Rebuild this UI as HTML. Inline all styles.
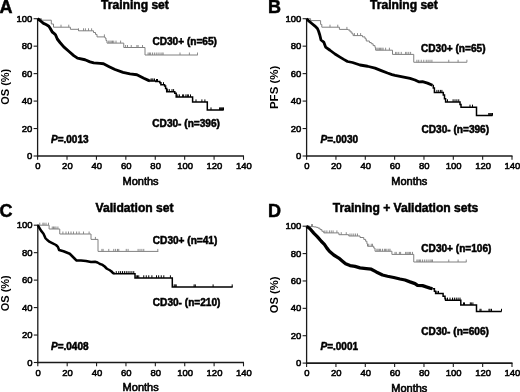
<!DOCTYPE html>
<html><head><meta charset="utf-8"><style>
html,body{margin:0;padding:0;background:#fff;}
svg{display:block;font-family:"Liberation Sans", sans-serif;will-change:transform;}
text{fill:#000;} text[font-weight="bold"]{stroke:#000;stroke-width:0.5px;} text[font-weight="normal"]{stroke:#000;stroke-width:0.6px;} text.tk{stroke:#000;stroke-width:0.55px;} text.yl{stroke:none;}
</style></head><body>
<svg width="520" height="392" viewBox="0 0 520 392">
<rect width="520" height="392" fill="#fff"/>
<line x1="37.6" y1="18.099999999999998" x2="37.6" y2="156.75" stroke="#1a1a1a" stroke-width="1.3"/>
<line x1="36.95" y1="156.0" x2="244.0" y2="156.0" stroke="#1a1a1a" stroke-width="1.6"/>
<line x1="33.6" y1="156.00" x2="37.6" y2="156.00" stroke="#1a1a1a" stroke-width="1.1"/>
<text x="32.40" y="159.10" font-size="9.5" font-weight="normal" text-anchor="end" class="tk">0</text>
<line x1="33.6" y1="128.54" x2="37.6" y2="128.54" stroke="#1a1a1a" stroke-width="1.1"/>
<text x="32.40" y="131.64" font-size="9.5" font-weight="normal" text-anchor="end" class="tk">20</text>
<line x1="33.6" y1="101.08" x2="37.6" y2="101.08" stroke="#1a1a1a" stroke-width="1.1"/>
<text x="32.40" y="104.18" font-size="9.5" font-weight="normal" text-anchor="end" class="tk">40</text>
<line x1="33.6" y1="73.62" x2="37.6" y2="73.62" stroke="#1a1a1a" stroke-width="1.1"/>
<text x="32.40" y="76.72" font-size="9.5" font-weight="normal" text-anchor="end" class="tk">60</text>
<line x1="33.6" y1="46.16" x2="37.6" y2="46.16" stroke="#1a1a1a" stroke-width="1.1"/>
<text x="32.40" y="49.26" font-size="9.5" font-weight="normal" text-anchor="end" class="tk">80</text>
<line x1="33.6" y1="18.70" x2="37.6" y2="18.70" stroke="#1a1a1a" stroke-width="1.1"/>
<text x="32.40" y="21.80" font-size="9.5" font-weight="normal" text-anchor="end" class="tk">100</text>
<line x1="37.60" y1="156.0" x2="37.60" y2="159.8" stroke="#1a1a1a" stroke-width="1.1"/>
<text x="38.00" y="169.20" font-size="9.5" font-weight="normal" text-anchor="middle" class="tk">0</text>
<line x1="67.01" y1="156.0" x2="67.01" y2="159.8" stroke="#1a1a1a" stroke-width="1.1"/>
<text x="67.41" y="169.20" font-size="9.5" font-weight="normal" text-anchor="middle" class="tk">20</text>
<line x1="96.43" y1="156.0" x2="96.43" y2="159.8" stroke="#1a1a1a" stroke-width="1.1"/>
<text x="96.83" y="169.20" font-size="9.5" font-weight="normal" text-anchor="middle" class="tk">40</text>
<line x1="125.84" y1="156.0" x2="125.84" y2="159.8" stroke="#1a1a1a" stroke-width="1.1"/>
<text x="126.24" y="169.20" font-size="9.5" font-weight="normal" text-anchor="middle" class="tk">60</text>
<line x1="155.26" y1="156.0" x2="155.26" y2="159.8" stroke="#1a1a1a" stroke-width="1.1"/>
<text x="155.66" y="169.20" font-size="9.5" font-weight="normal" text-anchor="middle" class="tk">80</text>
<line x1="184.67" y1="156.0" x2="184.67" y2="159.8" stroke="#1a1a1a" stroke-width="1.1"/>
<text x="185.07" y="169.20" font-size="9.5" font-weight="normal" text-anchor="middle" class="tk">100</text>
<line x1="214.09" y1="156.0" x2="214.09" y2="159.8" stroke="#1a1a1a" stroke-width="1.1"/>
<text x="214.49" y="169.20" font-size="9.5" font-weight="normal" text-anchor="middle" class="tk">120</text>
<line x1="243.50" y1="156.0" x2="243.50" y2="159.8" stroke="#1a1a1a" stroke-width="1.1"/>
<text x="243.90" y="169.20" font-size="9.5" font-weight="normal" text-anchor="middle" class="tk">140</text>
<text x="140.55" y="184.60" font-size="11" font-weight="normal" text-anchor="middle" >Months</text>
<text x="0" y="0" font-size="11" font-weight="bold" class="yl" text-anchor="middle" transform="translate(9.1,86.75) rotate(-90)">OS (%)</text>
<text x="-0.4" y="12.8" font-size="18" font-weight="bold" text-anchor="start" >A</text>
<text x="101.0" y="8.9" font-size="12.1" font-weight="bold" text-anchor="start" >Training set</text>
<text x="152.4" y="44.8" font-size="10.1" font-weight="bold" text-anchor="start" >CD30+ (n=65)</text>
<text x="152.3" y="126.9" font-size="10.1" font-weight="bold" text-anchor="start" >CD30- (n=396)</text>
<text x="51.0" y="142.7" font-size="10" font-weight="bold"><tspan font-style="italic">P</tspan>=.0013</text>
<polyline points="37.60,18.70 41.50,18.70 41.50,20.20 51.30,20.20 51.30,24.00 53.50,24.00 53.50,27.20 70.40,27.20 70.40,29.30 78.50,29.30 78.50,30.80 93.50,30.80 93.50,32.50 95.50,32.50 95.50,34.40 97.00,34.40 97.00,36.90 105.00,36.90 105.00,38.10 106.00,38.10 106.00,40.60 107.00,40.60 107.00,43.10 123.75,43.10 123.75,47.50 145.00,47.50 145.00,55.00 197.75,55.00" fill="none" stroke="#808080" stroke-width="1.0" />
<line x1="61" y1="24.70" x2="61" y2="27.20" stroke="#808080" stroke-width="0.9"/>
<line x1="68.75" y1="24.70" x2="68.75" y2="27.20" stroke="#808080" stroke-width="0.9"/>
<line x1="78.5" y1="28.30" x2="78.5" y2="30.80" stroke="#808080" stroke-width="0.9"/>
<line x1="83.5" y1="28.30" x2="83.5" y2="30.80" stroke="#808080" stroke-width="0.9"/>
<line x1="85.4" y1="28.30" x2="85.4" y2="30.80" stroke="#808080" stroke-width="0.9"/>
<line x1="88.5" y1="28.30" x2="88.5" y2="30.80" stroke="#808080" stroke-width="0.9"/>
<line x1="91.6" y1="28.30" x2="91.6" y2="30.80" stroke="#808080" stroke-width="0.9"/>
<line x1="104.4" y1="34.40" x2="104.4" y2="36.90" stroke="#808080" stroke-width="0.9"/>
<line x1="108.75" y1="40.60" x2="108.75" y2="43.10" stroke="#808080" stroke-width="0.9"/>
<line x1="110" y1="40.60" x2="110" y2="43.10" stroke="#808080" stroke-width="0.9"/>
<line x1="111.25" y1="40.60" x2="111.25" y2="43.10" stroke="#808080" stroke-width="0.9"/>
<line x1="112.5" y1="40.60" x2="112.5" y2="43.10" stroke="#808080" stroke-width="0.9"/>
<line x1="113.75" y1="40.60" x2="113.75" y2="43.10" stroke="#808080" stroke-width="0.9"/>
<line x1="116" y1="40.60" x2="116" y2="43.10" stroke="#808080" stroke-width="0.9"/>
<line x1="120.6" y1="40.60" x2="120.6" y2="43.10" stroke="#808080" stroke-width="0.9"/>
<line x1="125.6" y1="45.00" x2="125.6" y2="47.50" stroke="#808080" stroke-width="0.9"/>
<line x1="127.5" y1="45.00" x2="127.5" y2="47.50" stroke="#808080" stroke-width="0.9"/>
<line x1="131.25" y1="45.00" x2="131.25" y2="47.50" stroke="#808080" stroke-width="0.9"/>
<line x1="136.9" y1="45.00" x2="136.9" y2="47.50" stroke="#808080" stroke-width="0.9"/>
<line x1="138.1" y1="45.00" x2="138.1" y2="47.50" stroke="#808080" stroke-width="0.9"/>
<line x1="142.5" y1="45.00" x2="142.5" y2="47.50" stroke="#808080" stroke-width="0.9"/>
<line x1="148.1" y1="52.50" x2="148.1" y2="55.00" stroke="#808080" stroke-width="0.9"/>
<line x1="149.4" y1="52.50" x2="149.4" y2="55.00" stroke="#808080" stroke-width="0.9"/>
<line x1="150.6" y1="52.50" x2="150.6" y2="55.00" stroke="#808080" stroke-width="0.9"/>
<line x1="152.5" y1="52.50" x2="152.5" y2="55.00" stroke="#808080" stroke-width="0.9"/>
<line x1="154.4" y1="52.50" x2="154.4" y2="55.00" stroke="#808080" stroke-width="0.9"/>
<line x1="156.25" y1="52.50" x2="156.25" y2="55.00" stroke="#808080" stroke-width="0.9"/>
<line x1="158.1" y1="52.50" x2="158.1" y2="55.00" stroke="#808080" stroke-width="0.9"/>
<line x1="160" y1="52.50" x2="160" y2="55.00" stroke="#808080" stroke-width="0.9"/>
<line x1="161.9" y1="52.50" x2="161.9" y2="55.00" stroke="#808080" stroke-width="0.9"/>
<line x1="163.1" y1="52.50" x2="163.1" y2="55.00" stroke="#808080" stroke-width="0.9"/>
<line x1="180" y1="52.50" x2="180" y2="55.00" stroke="#808080" stroke-width="0.9"/>
<line x1="189.4" y1="52.50" x2="189.4" y2="55.00" stroke="#808080" stroke-width="0.9"/>
<line x1="197.5" y1="52.50" x2="197.5" y2="55.00" stroke="#808080" stroke-width="0.9"/>
<polyline points="149.50,81.10 155.80,81.10 155.80,81.60 159.80,81.60 159.80,82.70 160.90,82.70 160.90,84.80 164.60,84.80 164.60,85.90 165.60,85.90 165.60,88.50 166.70,88.50 166.70,91.70 174.80,91.70 174.80,93.30 176.20,93.30 176.20,97.00 192.60,97.00 192.60,102.00 207.30,102.00 207.30,110.00 223.70,110.00" fill="none" stroke="#000" stroke-width="1.5" />
<polyline points="37.60,18.70 40.00,20.50 43.50,23.40 46.00,24.50 48.50,25.90 50.00,28.00 52.25,32.00 54.00,33.40 55.50,34.80 57.30,39.00 60.00,42.50 63.75,46.90 68.75,51.25 73.75,55.60 77.50,58.10 85.00,59.75 90.00,61.90 93.75,62.90 100.00,63.40 103.50,63.80 109.20,66.70 115.00,69.50 123.00,72.40 130.00,73.90 136.90,74.70 143.80,78.20 148.50,80.40 150.00,81.00" fill="none" stroke="#000" stroke-width="2.9" stroke-linejoin="round"/>
<line x1="151" y1="78.50" x2="151" y2="81.10" stroke="#000" stroke-width="1"/>
<line x1="152" y1="78.50" x2="152" y2="81.10" stroke="#000" stroke-width="1"/>
<line x1="153" y1="78.50" x2="153" y2="81.10" stroke="#000" stroke-width="1"/>
<line x1="154.5" y1="78.50" x2="154.5" y2="81.10" stroke="#000" stroke-width="1"/>
<line x1="156.5" y1="79.00" x2="156.5" y2="81.60" stroke="#000" stroke-width="1"/>
<line x1="157.5" y1="79.00" x2="157.5" y2="81.60" stroke="#000" stroke-width="1"/>
<line x1="163.5" y1="82.20" x2="163.5" y2="84.80" stroke="#000" stroke-width="1"/>
<line x1="167.7" y1="89.10" x2="167.7" y2="91.70" stroke="#000" stroke-width="1"/>
<line x1="169.3" y1="89.10" x2="169.3" y2="91.70" stroke="#000" stroke-width="1"/>
<line x1="172" y1="89.10" x2="172" y2="91.70" stroke="#000" stroke-width="1"/>
<line x1="173.6" y1="89.10" x2="173.6" y2="91.70" stroke="#000" stroke-width="1"/>
<line x1="177.8" y1="94.40" x2="177.8" y2="97.00" stroke="#000" stroke-width="1"/>
<line x1="179.4" y1="94.40" x2="179.4" y2="97.00" stroke="#000" stroke-width="1"/>
<line x1="182.6" y1="94.40" x2="182.6" y2="97.00" stroke="#000" stroke-width="1"/>
<line x1="183.6" y1="94.40" x2="183.6" y2="97.00" stroke="#000" stroke-width="1"/>
<line x1="185.9" y1="94.40" x2="185.9" y2="97.00" stroke="#000" stroke-width="1"/>
<line x1="187.3" y1="94.40" x2="187.3" y2="97.00" stroke="#000" stroke-width="1"/>
<line x1="188.4" y1="94.40" x2="188.4" y2="97.00" stroke="#000" stroke-width="1"/>
<line x1="190.5" y1="94.40" x2="190.5" y2="97.00" stroke="#000" stroke-width="1"/>
<line x1="196" y1="99.40" x2="196" y2="102.00" stroke="#000" stroke-width="1"/>
<line x1="201.9" y1="99.40" x2="201.9" y2="102.00" stroke="#000" stroke-width="1"/>
<line x1="204.9" y1="99.40" x2="204.9" y2="102.00" stroke="#000" stroke-width="1"/>
<line x1="211" y1="107.40" x2="211" y2="110.00" stroke="#000" stroke-width="1"/>
<line x1="219.6" y1="107.40" x2="219.6" y2="110.00" stroke="#000" stroke-width="1"/>
<line x1="220.6" y1="107.40" x2="220.6" y2="110.00" stroke="#000" stroke-width="1"/>
<line x1="221.6" y1="107.40" x2="221.6" y2="110.00" stroke="#000" stroke-width="1"/>
<line x1="222.6" y1="107.40" x2="222.6" y2="110.00" stroke="#000" stroke-width="1"/>
<line x1="223.5" y1="107.40" x2="223.5" y2="110.00" stroke="#000" stroke-width="1"/>
<line x1="306.6" y1="18.099999999999998" x2="306.6" y2="156.75" stroke="#1a1a1a" stroke-width="1.3"/>
<line x1="305.95000000000005" y1="156.0" x2="512.5" y2="156.0" stroke="#1a1a1a" stroke-width="1.6"/>
<line x1="302.6" y1="156.00" x2="306.6" y2="156.00" stroke="#1a1a1a" stroke-width="1.1"/>
<text x="301.40" y="159.10" font-size="9.5" font-weight="normal" text-anchor="end" class="tk">0</text>
<line x1="302.6" y1="128.54" x2="306.6" y2="128.54" stroke="#1a1a1a" stroke-width="1.1"/>
<text x="301.40" y="131.64" font-size="9.5" font-weight="normal" text-anchor="end" class="tk">20</text>
<line x1="302.6" y1="101.08" x2="306.6" y2="101.08" stroke="#1a1a1a" stroke-width="1.1"/>
<text x="301.40" y="104.18" font-size="9.5" font-weight="normal" text-anchor="end" class="tk">40</text>
<line x1="302.6" y1="73.62" x2="306.6" y2="73.62" stroke="#1a1a1a" stroke-width="1.1"/>
<text x="301.40" y="76.72" font-size="9.5" font-weight="normal" text-anchor="end" class="tk">60</text>
<line x1="302.6" y1="46.16" x2="306.6" y2="46.16" stroke="#1a1a1a" stroke-width="1.1"/>
<text x="301.40" y="49.26" font-size="9.5" font-weight="normal" text-anchor="end" class="tk">80</text>
<line x1="302.6" y1="18.70" x2="306.6" y2="18.70" stroke="#1a1a1a" stroke-width="1.1"/>
<text x="301.40" y="21.80" font-size="9.5" font-weight="normal" text-anchor="end" class="tk">100</text>
<line x1="306.60" y1="156.0" x2="306.60" y2="159.8" stroke="#1a1a1a" stroke-width="1.1"/>
<text x="307.00" y="169.20" font-size="9.5" font-weight="normal" text-anchor="middle" class="tk">0</text>
<line x1="335.94" y1="156.0" x2="335.94" y2="159.8" stroke="#1a1a1a" stroke-width="1.1"/>
<text x="336.34" y="169.20" font-size="9.5" font-weight="normal" text-anchor="middle" class="tk">20</text>
<line x1="365.29" y1="156.0" x2="365.29" y2="159.8" stroke="#1a1a1a" stroke-width="1.1"/>
<text x="365.69" y="169.20" font-size="9.5" font-weight="normal" text-anchor="middle" class="tk">40</text>
<line x1="394.63" y1="156.0" x2="394.63" y2="159.8" stroke="#1a1a1a" stroke-width="1.1"/>
<text x="395.03" y="169.20" font-size="9.5" font-weight="normal" text-anchor="middle" class="tk">60</text>
<line x1="423.97" y1="156.0" x2="423.97" y2="159.8" stroke="#1a1a1a" stroke-width="1.1"/>
<text x="424.37" y="169.20" font-size="9.5" font-weight="normal" text-anchor="middle" class="tk">80</text>
<line x1="453.31" y1="156.0" x2="453.31" y2="159.8" stroke="#1a1a1a" stroke-width="1.1"/>
<text x="453.71" y="169.20" font-size="9.5" font-weight="normal" text-anchor="middle" class="tk">100</text>
<line x1="482.66" y1="156.0" x2="482.66" y2="159.8" stroke="#1a1a1a" stroke-width="1.1"/>
<text x="483.06" y="169.20" font-size="9.5" font-weight="normal" text-anchor="middle" class="tk">120</text>
<line x1="512.00" y1="156.0" x2="512.00" y2="159.8" stroke="#1a1a1a" stroke-width="1.1"/>
<text x="512.40" y="169.20" font-size="9.5" font-weight="normal" text-anchor="middle" class="tk">140</text>
<text x="409.30" y="184.60" font-size="11" font-weight="normal" text-anchor="middle" >Months</text>
<text x="0" y="0" font-size="11.5" font-weight="bold" class="yl" text-anchor="middle" transform="translate(277.8,87.35) rotate(-90)">PFS (%)</text>
<text x="268.1" y="12.9" font-size="18" font-weight="bold" text-anchor="start" >B</text>
<text x="370.0" y="8.8" font-size="12.1" font-weight="bold" text-anchor="start" >Training set</text>
<text x="421.0" y="51.9" font-size="10.1" font-weight="bold" text-anchor="start" >CD30+ (n=65)</text>
<text x="421.5" y="132.9" font-size="10.1" font-weight="bold" text-anchor="start" >CD30- (n=396)</text>
<text x="320.5" y="142.7" font-size="10" font-weight="bold"><tspan font-style="italic">P</tspan>=.0030</text>
<polyline points="306.60,18.70 310.60,18.70 310.60,20.60 320.60,20.60 320.60,24.40 321.80,24.40 321.80,27.20 339.40,27.20 339.40,29.40 348.10,29.40 348.10,30.00 350.00,30.00 350.00,31.90 351.90,31.90 351.90,33.75 353.10,33.75 353.10,35.60 362.50,35.60 362.50,36.90 365.00,36.90 365.00,38.75 366.25,38.75 366.25,41.00 369.40,41.00 369.40,42.50 371.25,42.50 371.25,43.75 373.10,43.75 373.10,45.60 375.00,45.60 375.00,47.50 375.60,47.50 375.60,50.20 392.50,50.20 392.50,54.40 413.75,54.40 413.75,62.25 466.90,62.25" fill="none" stroke="#808080" stroke-width="1.0" />
<line x1="330" y1="24.70" x2="330" y2="27.20" stroke="#808080" stroke-width="0.9"/>
<line x1="337.75" y1="24.70" x2="337.75" y2="27.20" stroke="#808080" stroke-width="0.9"/>
<line x1="346.9" y1="26.90" x2="346.9" y2="29.40" stroke="#808080" stroke-width="0.9"/>
<line x1="354.4" y1="33.10" x2="354.4" y2="35.60" stroke="#808080" stroke-width="0.9"/>
<line x1="357.5" y1="33.10" x2="357.5" y2="35.60" stroke="#808080" stroke-width="0.9"/>
<line x1="360.6" y1="33.10" x2="360.6" y2="35.60" stroke="#808080" stroke-width="0.9"/>
<line x1="376.9" y1="47.70" x2="376.9" y2="50.20" stroke="#808080" stroke-width="0.9"/>
<line x1="378.1" y1="47.70" x2="378.1" y2="50.20" stroke="#808080" stroke-width="0.9"/>
<line x1="379.4" y1="47.70" x2="379.4" y2="50.20" stroke="#808080" stroke-width="0.9"/>
<line x1="380.6" y1="47.70" x2="380.6" y2="50.20" stroke="#808080" stroke-width="0.9"/>
<line x1="381.9" y1="47.70" x2="381.9" y2="50.20" stroke="#808080" stroke-width="0.9"/>
<line x1="383.1" y1="47.70" x2="383.1" y2="50.20" stroke="#808080" stroke-width="0.9"/>
<line x1="385.6" y1="47.70" x2="385.6" y2="50.20" stroke="#808080" stroke-width="0.9"/>
<line x1="389.4" y1="47.70" x2="389.4" y2="50.20" stroke="#808080" stroke-width="0.9"/>
<line x1="395.6" y1="51.90" x2="395.6" y2="54.40" stroke="#808080" stroke-width="0.9"/>
<line x1="396.9" y1="51.90" x2="396.9" y2="54.40" stroke="#808080" stroke-width="0.9"/>
<line x1="398.75" y1="51.90" x2="398.75" y2="54.40" stroke="#808080" stroke-width="0.9"/>
<line x1="401.25" y1="51.90" x2="401.25" y2="54.40" stroke="#808080" stroke-width="0.9"/>
<line x1="405.6" y1="51.90" x2="405.6" y2="54.40" stroke="#808080" stroke-width="0.9"/>
<line x1="406.9" y1="51.90" x2="406.9" y2="54.40" stroke="#808080" stroke-width="0.9"/>
<line x1="408.75" y1="51.90" x2="408.75" y2="54.40" stroke="#808080" stroke-width="0.9"/>
<line x1="410.6" y1="51.90" x2="410.6" y2="54.40" stroke="#808080" stroke-width="0.9"/>
<line x1="416.9" y1="59.75" x2="416.9" y2="62.25" stroke="#808080" stroke-width="0.9"/>
<line x1="418.75" y1="59.75" x2="418.75" y2="62.25" stroke="#808080" stroke-width="0.9"/>
<line x1="421.25" y1="59.75" x2="421.25" y2="62.25" stroke="#808080" stroke-width="0.9"/>
<line x1="423.75" y1="59.75" x2="423.75" y2="62.25" stroke="#808080" stroke-width="0.9"/>
<line x1="426.25" y1="59.75" x2="426.25" y2="62.25" stroke="#808080" stroke-width="0.9"/>
<line x1="428.1" y1="59.75" x2="428.1" y2="62.25" stroke="#808080" stroke-width="0.9"/>
<line x1="430" y1="59.75" x2="430" y2="62.25" stroke="#808080" stroke-width="0.9"/>
<line x1="431.9" y1="59.75" x2="431.9" y2="62.25" stroke="#808080" stroke-width="0.9"/>
<line x1="448.75" y1="59.75" x2="448.75" y2="62.25" stroke="#808080" stroke-width="0.9"/>
<line x1="458.1" y1="59.75" x2="458.1" y2="62.25" stroke="#808080" stroke-width="0.9"/>
<line x1="466.9" y1="59.75" x2="466.9" y2="62.25" stroke="#808080" stroke-width="0.9"/>
<polyline points="432.50,85.60 433.30,85.60 433.30,88.10 434.40,88.10 434.40,92.50 443.30,92.50 443.30,95.00 444.50,95.00 444.50,98.75 445.60,98.75 445.60,101.90 460.00,101.90 460.00,104.40 461.00,104.40 461.00,107.25 476.50,107.25 476.50,115.60 492.50,115.60" fill="none" stroke="#000" stroke-width="1.5" />
<polyline points="306.60,18.70 309.00,21.20 311.80,23.50 314.70,25.80 317.40,28.50 318.60,31.30 319.80,35.00 321.00,40.00 323.75,42.10 325.60,47.10 330.00,50.25 335.00,54.00 340.00,57.10 343.75,59.40 347.50,61.50 352.50,62.50 360.00,65.00 367.50,66.25 375.00,68.10 381.25,70.60 387.50,73.00 392.00,74.60 395.00,75.30 400.00,76.30 405.00,77.30 410.00,78.40 415.00,80.00 418.75,81.80 422.50,81.60 427.50,83.10 432.50,85.30" fill="none" stroke="#000" stroke-width="2.8" stroke-linejoin="round"/>
<line x1="436.9" y1="89.90" x2="436.9" y2="92.50" stroke="#000" stroke-width="1"/>
<line x1="438.75" y1="89.90" x2="438.75" y2="92.50" stroke="#000" stroke-width="1"/>
<line x1="440.6" y1="89.90" x2="440.6" y2="92.50" stroke="#000" stroke-width="1"/>
<line x1="441.9" y1="89.90" x2="441.9" y2="92.50" stroke="#000" stroke-width="1"/>
<line x1="447.5" y1="99.30" x2="447.5" y2="101.90" stroke="#000" stroke-width="1"/>
<line x1="453.1" y1="99.30" x2="453.1" y2="101.90" stroke="#000" stroke-width="1"/>
<line x1="455" y1="99.30" x2="455" y2="101.90" stroke="#000" stroke-width="1"/>
<line x1="456.9" y1="99.30" x2="456.9" y2="101.90" stroke="#000" stroke-width="1"/>
<line x1="458.75" y1="99.30" x2="458.75" y2="101.90" stroke="#000" stroke-width="1"/>
<line x1="470" y1="104.65" x2="470" y2="107.25" stroke="#000" stroke-width="1"/>
<line x1="472.5" y1="104.65" x2="472.5" y2="107.25" stroke="#000" stroke-width="1"/>
<line x1="488.75" y1="113.00" x2="488.75" y2="115.60" stroke="#000" stroke-width="1"/>
<line x1="489.75" y1="113.00" x2="489.75" y2="115.60" stroke="#000" stroke-width="1"/>
<line x1="490.75" y1="113.00" x2="490.75" y2="115.60" stroke="#000" stroke-width="1"/>
<line x1="491.75" y1="113.00" x2="491.75" y2="115.60" stroke="#000" stroke-width="1"/>
<line x1="492.5" y1="113.00" x2="492.5" y2="115.60" stroke="#000" stroke-width="1"/>
<line x1="37.8" y1="224.6" x2="37.8" y2="363.25" stroke="#1a1a1a" stroke-width="1.3"/>
<line x1="37.15" y1="362.5" x2="244.0" y2="362.5" stroke="#1a1a1a" stroke-width="1.6"/>
<line x1="33.8" y1="362.50" x2="37.8" y2="362.50" stroke="#1a1a1a" stroke-width="1.1"/>
<text x="32.60" y="365.60" font-size="9.5" font-weight="normal" text-anchor="end" class="tk">0</text>
<line x1="33.8" y1="335.04" x2="37.8" y2="335.04" stroke="#1a1a1a" stroke-width="1.1"/>
<text x="32.60" y="338.14" font-size="9.5" font-weight="normal" text-anchor="end" class="tk">20</text>
<line x1="33.8" y1="307.58" x2="37.8" y2="307.58" stroke="#1a1a1a" stroke-width="1.1"/>
<text x="32.60" y="310.68" font-size="9.5" font-weight="normal" text-anchor="end" class="tk">40</text>
<line x1="33.8" y1="280.12" x2="37.8" y2="280.12" stroke="#1a1a1a" stroke-width="1.1"/>
<text x="32.60" y="283.22" font-size="9.5" font-weight="normal" text-anchor="end" class="tk">60</text>
<line x1="33.8" y1="252.66" x2="37.8" y2="252.66" stroke="#1a1a1a" stroke-width="1.1"/>
<text x="32.60" y="255.76" font-size="9.5" font-weight="normal" text-anchor="end" class="tk">80</text>
<line x1="33.8" y1="225.20" x2="37.8" y2="225.20" stroke="#1a1a1a" stroke-width="1.1"/>
<text x="32.60" y="228.30" font-size="9.5" font-weight="normal" text-anchor="end" class="tk">100</text>
<line x1="37.80" y1="362.5" x2="37.80" y2="366.3" stroke="#1a1a1a" stroke-width="1.1"/>
<text x="38.20" y="375.70" font-size="9.5" font-weight="normal" text-anchor="middle" class="tk">0</text>
<line x1="67.19" y1="362.5" x2="67.19" y2="366.3" stroke="#1a1a1a" stroke-width="1.1"/>
<text x="67.59" y="375.70" font-size="9.5" font-weight="normal" text-anchor="middle" class="tk">20</text>
<line x1="96.57" y1="362.5" x2="96.57" y2="366.3" stroke="#1a1a1a" stroke-width="1.1"/>
<text x="96.97" y="375.70" font-size="9.5" font-weight="normal" text-anchor="middle" class="tk">40</text>
<line x1="125.96" y1="362.5" x2="125.96" y2="366.3" stroke="#1a1a1a" stroke-width="1.1"/>
<text x="126.36" y="375.70" font-size="9.5" font-weight="normal" text-anchor="middle" class="tk">60</text>
<line x1="155.34" y1="362.5" x2="155.34" y2="366.3" stroke="#1a1a1a" stroke-width="1.1"/>
<text x="155.74" y="375.70" font-size="9.5" font-weight="normal" text-anchor="middle" class="tk">80</text>
<line x1="184.73" y1="362.5" x2="184.73" y2="366.3" stroke="#1a1a1a" stroke-width="1.1"/>
<text x="185.13" y="375.70" font-size="9.5" font-weight="normal" text-anchor="middle" class="tk">100</text>
<line x1="214.11" y1="362.5" x2="214.11" y2="366.3" stroke="#1a1a1a" stroke-width="1.1"/>
<text x="214.51" y="375.70" font-size="9.5" font-weight="normal" text-anchor="middle" class="tk">120</text>
<line x1="243.50" y1="362.5" x2="243.50" y2="366.3" stroke="#1a1a1a" stroke-width="1.1"/>
<text x="243.90" y="375.70" font-size="9.5" font-weight="normal" text-anchor="middle" class="tk">140</text>
<text x="140.65" y="391.10" font-size="11" font-weight="normal" text-anchor="middle" >Months</text>
<text x="0" y="0" font-size="11" font-weight="bold" class="yl" text-anchor="middle" transform="translate(9.1,293.25) rotate(-90)">OS (%)</text>
<text x="-0.4" y="217.3" font-size="18" font-weight="bold" text-anchor="start" >C</text>
<text x="95.6" y="211.6" font-size="12.1" font-weight="bold" text-anchor="start" >Validation set</text>
<text x="152.8" y="243.9" font-size="10.1" font-weight="bold" text-anchor="start" >CD30+ (n=41)</text>
<text x="152.8" y="306.4" font-size="10.1" font-weight="bold" text-anchor="start" >CD30- (n=210)</text>
<text x="51.0" y="350.0" font-size="10" font-weight="bold"><tspan font-style="italic">P</tspan>=.0408</text>
<polyline points="37.80,225.20 49.10,225.20 49.10,229.00 59.75,229.00 59.75,234.00 91.00,234.00 91.00,239.40 98.00,239.40 98.00,251.40 158.30,251.40" fill="none" stroke="#808080" stroke-width="1.0" />
<line x1="39.75" y1="222.70" x2="39.75" y2="225.20" stroke="#808080" stroke-width="0.9"/>
<line x1="42.9" y1="222.70" x2="42.9" y2="225.20" stroke="#808080" stroke-width="0.9"/>
<line x1="44.1" y1="222.70" x2="44.1" y2="225.20" stroke="#808080" stroke-width="0.9"/>
<line x1="46" y1="222.70" x2="46" y2="225.20" stroke="#808080" stroke-width="0.9"/>
<line x1="48.5" y1="222.70" x2="48.5" y2="225.20" stroke="#808080" stroke-width="0.9"/>
<line x1="52.25" y1="226.50" x2="52.25" y2="229.00" stroke="#808080" stroke-width="0.9"/>
<line x1="53.5" y1="226.50" x2="53.5" y2="229.00" stroke="#808080" stroke-width="0.9"/>
<line x1="54.75" y1="226.50" x2="54.75" y2="229.00" stroke="#808080" stroke-width="0.9"/>
<line x1="56" y1="226.50" x2="56" y2="229.00" stroke="#808080" stroke-width="0.9"/>
<line x1="57.9" y1="226.50" x2="57.9" y2="229.00" stroke="#808080" stroke-width="0.9"/>
<line x1="62.9" y1="231.50" x2="62.9" y2="234.00" stroke="#808080" stroke-width="0.9"/>
<line x1="66" y1="231.50" x2="66" y2="234.00" stroke="#808080" stroke-width="0.9"/>
<line x1="68.5" y1="231.50" x2="68.5" y2="234.00" stroke="#808080" stroke-width="0.9"/>
<line x1="71" y1="231.50" x2="71" y2="234.00" stroke="#808080" stroke-width="0.9"/>
<line x1="73.5" y1="231.50" x2="73.5" y2="234.00" stroke="#808080" stroke-width="0.9"/>
<line x1="76.6" y1="231.50" x2="76.6" y2="234.00" stroke="#808080" stroke-width="0.9"/>
<line x1="79.1" y1="231.50" x2="79.1" y2="234.00" stroke="#808080" stroke-width="0.9"/>
<line x1="83.5" y1="231.50" x2="83.5" y2="234.00" stroke="#808080" stroke-width="0.9"/>
<line x1="89.1" y1="231.50" x2="89.1" y2="234.00" stroke="#808080" stroke-width="0.9"/>
<line x1="95.4" y1="236.90" x2="95.4" y2="239.40" stroke="#808080" stroke-width="0.9"/>
<line x1="101.9" y1="248.90" x2="101.9" y2="251.40" stroke="#808080" stroke-width="0.9"/>
<line x1="103.1" y1="248.90" x2="103.1" y2="251.40" stroke="#808080" stroke-width="0.9"/>
<line x1="108.75" y1="248.90" x2="108.75" y2="251.40" stroke="#808080" stroke-width="0.9"/>
<line x1="113.75" y1="248.90" x2="113.75" y2="251.40" stroke="#808080" stroke-width="0.9"/>
<line x1="115.6" y1="248.90" x2="115.6" y2="251.40" stroke="#808080" stroke-width="0.9"/>
<line x1="117.5" y1="248.90" x2="117.5" y2="251.40" stroke="#808080" stroke-width="0.9"/>
<line x1="118.75" y1="248.90" x2="118.75" y2="251.40" stroke="#808080" stroke-width="0.9"/>
<line x1="126.25" y1="248.90" x2="126.25" y2="251.40" stroke="#808080" stroke-width="0.9"/>
<line x1="128.1" y1="248.90" x2="128.1" y2="251.40" stroke="#808080" stroke-width="0.9"/>
<line x1="138.1" y1="248.90" x2="138.1" y2="251.40" stroke="#808080" stroke-width="0.9"/>
<line x1="140" y1="248.90" x2="140" y2="251.40" stroke="#808080" stroke-width="0.9"/>
<line x1="141.9" y1="248.90" x2="141.9" y2="251.40" stroke="#808080" stroke-width="0.9"/>
<line x1="143.75" y1="248.90" x2="143.75" y2="251.40" stroke="#808080" stroke-width="0.9"/>
<line x1="157.8" y1="248.90" x2="157.8" y2="251.40" stroke="#808080" stroke-width="0.9"/>
<polyline points="114.00,273.75 135.00,273.75 135.00,277.90 172.30,277.90 172.30,287.00 232.70,287.00" fill="none" stroke="#000" stroke-width="1.5" />
<polyline points="37.80,225.20 39.10,227.50 41.00,230.60 43.50,233.75 45.40,238.10 47.25,240.00 49.75,241.90 52.25,243.10 56.00,245.00 57.90,246.90 59.10,250.00 63.50,251.25 67.25,252.75 69.75,253.75 72.25,256.25 74.75,258.75 76.60,260.60 81.00,260.60 86.00,261.00 91.00,261.90 95.00,261.80 97.50,262.50 100.00,264.00 102.00,264.60 104.40,266.25 106.90,268.75 109.40,270.00 111.25,271.25 113.10,273.10 114.50,273.60" fill="none" stroke="#000" stroke-width="2.5" stroke-linejoin="round"/>
<line x1="116.25" y1="271.15" x2="116.25" y2="273.75" stroke="#000" stroke-width="1"/>
<line x1="118.75" y1="271.15" x2="118.75" y2="273.75" stroke="#000" stroke-width="1"/>
<line x1="120.6" y1="271.15" x2="120.6" y2="273.75" stroke="#000" stroke-width="1"/>
<line x1="122.5" y1="271.15" x2="122.5" y2="273.75" stroke="#000" stroke-width="1"/>
<line x1="124.4" y1="271.15" x2="124.4" y2="273.75" stroke="#000" stroke-width="1"/>
<line x1="126.25" y1="271.15" x2="126.25" y2="273.75" stroke="#000" stroke-width="1"/>
<line x1="128.1" y1="271.15" x2="128.1" y2="273.75" stroke="#000" stroke-width="1"/>
<line x1="130" y1="271.15" x2="130" y2="273.75" stroke="#000" stroke-width="1"/>
<line x1="131.9" y1="271.15" x2="131.9" y2="273.75" stroke="#000" stroke-width="1"/>
<line x1="133.75" y1="271.15" x2="133.75" y2="273.75" stroke="#000" stroke-width="1"/>
<line x1="136.25" y1="275.30" x2="136.25" y2="277.90" stroke="#000" stroke-width="1"/>
<line x1="137.5" y1="275.30" x2="137.5" y2="277.90" stroke="#000" stroke-width="1"/>
<line x1="138.75" y1="275.30" x2="138.75" y2="277.90" stroke="#000" stroke-width="1"/>
<line x1="143.75" y1="275.30" x2="143.75" y2="277.90" stroke="#000" stroke-width="1"/>
<line x1="146.25" y1="275.30" x2="146.25" y2="277.90" stroke="#000" stroke-width="1"/>
<line x1="148.75" y1="275.30" x2="148.75" y2="277.90" stroke="#000" stroke-width="1"/>
<line x1="151.9" y1="275.30" x2="151.9" y2="277.90" stroke="#000" stroke-width="1"/>
<line x1="156.5" y1="275.30" x2="156.5" y2="277.90" stroke="#000" stroke-width="1"/>
<line x1="158.65" y1="275.30" x2="158.65" y2="277.90" stroke="#000" stroke-width="1"/>
<line x1="161.25" y1="275.30" x2="161.25" y2="277.90" stroke="#000" stroke-width="1"/>
<line x1="163.8" y1="275.30" x2="163.8" y2="277.90" stroke="#000" stroke-width="1"/>
<line x1="170.4" y1="275.30" x2="170.4" y2="277.90" stroke="#000" stroke-width="1"/>
<line x1="174.2" y1="284.40" x2="174.2" y2="287.00" stroke="#000" stroke-width="1"/>
<line x1="175.2" y1="284.40" x2="175.2" y2="287.00" stroke="#000" stroke-width="1"/>
<line x1="176.2" y1="284.40" x2="176.2" y2="287.00" stroke="#000" stroke-width="1"/>
<line x1="194.1" y1="284.40" x2="194.1" y2="287.00" stroke="#000" stroke-width="1"/>
<line x1="195.3" y1="284.40" x2="195.3" y2="287.00" stroke="#000" stroke-width="1"/>
<line x1="213.1" y1="284.40" x2="213.1" y2="287.00" stroke="#000" stroke-width="1"/>
<line x1="232.2" y1="284.40" x2="232.2" y2="287.00" stroke="#000" stroke-width="1"/>
<line x1="306.6" y1="225.6" x2="306.6" y2="363.85" stroke="#1a1a1a" stroke-width="1.3"/>
<line x1="305.95000000000005" y1="363.1" x2="512.5" y2="363.1" stroke="#1a1a1a" stroke-width="1.6"/>
<line x1="302.6" y1="363.10" x2="306.6" y2="363.10" stroke="#1a1a1a" stroke-width="1.1"/>
<text x="301.40" y="366.20" font-size="9.5" font-weight="normal" text-anchor="end" class="tk">0</text>
<line x1="302.6" y1="335.72" x2="306.6" y2="335.72" stroke="#1a1a1a" stroke-width="1.1"/>
<text x="301.40" y="338.82" font-size="9.5" font-weight="normal" text-anchor="end" class="tk">20</text>
<line x1="302.6" y1="308.34" x2="306.6" y2="308.34" stroke="#1a1a1a" stroke-width="1.1"/>
<text x="301.40" y="311.44" font-size="9.5" font-weight="normal" text-anchor="end" class="tk">40</text>
<line x1="302.6" y1="280.96" x2="306.6" y2="280.96" stroke="#1a1a1a" stroke-width="1.1"/>
<text x="301.40" y="284.06" font-size="9.5" font-weight="normal" text-anchor="end" class="tk">60</text>
<line x1="302.6" y1="253.58" x2="306.6" y2="253.58" stroke="#1a1a1a" stroke-width="1.1"/>
<text x="301.40" y="256.68" font-size="9.5" font-weight="normal" text-anchor="end" class="tk">80</text>
<line x1="302.6" y1="226.20" x2="306.6" y2="226.20" stroke="#1a1a1a" stroke-width="1.1"/>
<text x="301.40" y="229.30" font-size="9.5" font-weight="normal" text-anchor="end" class="tk">100</text>
<line x1="306.60" y1="363.1" x2="306.60" y2="366.90000000000003" stroke="#1a1a1a" stroke-width="1.1"/>
<text x="307.00" y="376.30" font-size="9.5" font-weight="normal" text-anchor="middle" class="tk">0</text>
<line x1="335.94" y1="363.1" x2="335.94" y2="366.90000000000003" stroke="#1a1a1a" stroke-width="1.1"/>
<text x="336.34" y="376.30" font-size="9.5" font-weight="normal" text-anchor="middle" class="tk">20</text>
<line x1="365.29" y1="363.1" x2="365.29" y2="366.90000000000003" stroke="#1a1a1a" stroke-width="1.1"/>
<text x="365.69" y="376.30" font-size="9.5" font-weight="normal" text-anchor="middle" class="tk">40</text>
<line x1="394.63" y1="363.1" x2="394.63" y2="366.90000000000003" stroke="#1a1a1a" stroke-width="1.1"/>
<text x="395.03" y="376.30" font-size="9.5" font-weight="normal" text-anchor="middle" class="tk">60</text>
<line x1="423.97" y1="363.1" x2="423.97" y2="366.90000000000003" stroke="#1a1a1a" stroke-width="1.1"/>
<text x="424.37" y="376.30" font-size="9.5" font-weight="normal" text-anchor="middle" class="tk">80</text>
<line x1="453.31" y1="363.1" x2="453.31" y2="366.90000000000003" stroke="#1a1a1a" stroke-width="1.1"/>
<text x="453.71" y="376.30" font-size="9.5" font-weight="normal" text-anchor="middle" class="tk">100</text>
<line x1="482.66" y1="363.1" x2="482.66" y2="366.90000000000003" stroke="#1a1a1a" stroke-width="1.1"/>
<text x="483.06" y="376.30" font-size="9.5" font-weight="normal" text-anchor="middle" class="tk">120</text>
<line x1="512.00" y1="363.1" x2="512.00" y2="366.90000000000003" stroke="#1a1a1a" stroke-width="1.1"/>
<text x="512.40" y="376.30" font-size="9.5" font-weight="normal" text-anchor="middle" class="tk">140</text>
<text x="409.30" y="391.70" font-size="11" font-weight="normal" text-anchor="middle" >Months</text>
<text x="0" y="0" font-size="11.2" font-weight="bold" class="yl" text-anchor="middle" transform="translate(278.0,294.85) rotate(-90)">OS (%)</text>
<text x="268.1" y="217.3" font-size="18" font-weight="bold" text-anchor="start" >D</text>
<text x="332.8" y="211.7" font-size="12.1" font-weight="bold" text-anchor="start" >Training + Validation sets</text>
<text x="421.3" y="252.0" font-size="10.1" font-weight="bold" text-anchor="start" >CD30+ (n=106)</text>
<text x="421.3" y="334.8" font-size="10.1" font-weight="bold" text-anchor="start" >CD30- (n=606)</text>
<text x="320.5" y="350.0" font-size="10" font-weight="bold"><tspan font-style="italic">P</tspan>=.0001</text>
<polyline points="306.60,226.20 310.00,226.20 310.00,226.60 313.75,226.60 313.75,226.90 316.25,226.90 316.25,227.40 318.10,227.40 318.10,228.20 320.00,228.20 320.00,229.60 321.90,229.60 321.90,231.25 323.75,231.25 323.75,232.90 338.90,232.90 338.90,234.70 348.75,234.70 348.75,236.00 360.00,236.00 360.00,237.50 363.75,237.50 363.75,239.40 365.60,239.40 365.60,241.25 366.90,241.25 366.90,243.75 367.50,243.75 367.50,246.25 373.75,246.25 373.75,248.10 375.00,248.10 375.00,251.25 391.90,251.25 391.90,254.40 413.75,254.40 413.75,262.00 466.50,262.00" fill="none" stroke="#808080" stroke-width="1.0" />
<line x1="311.5" y1="224.10" x2="311.5" y2="226.60" stroke="#808080" stroke-width="0.9"/>
<line x1="312.5" y1="224.10" x2="312.5" y2="226.60" stroke="#808080" stroke-width="0.9"/>
<line x1="324.9" y1="230.40" x2="324.9" y2="232.90" stroke="#808080" stroke-width="0.9"/>
<line x1="326.9" y1="230.40" x2="326.9" y2="232.90" stroke="#808080" stroke-width="0.9"/>
<line x1="329.4" y1="230.40" x2="329.4" y2="232.90" stroke="#808080" stroke-width="0.9"/>
<line x1="331.25" y1="230.40" x2="331.25" y2="232.90" stroke="#808080" stroke-width="0.9"/>
<line x1="333.1" y1="230.40" x2="333.1" y2="232.90" stroke="#808080" stroke-width="0.9"/>
<line x1="336.9" y1="230.40" x2="336.9" y2="232.90" stroke="#808080" stroke-width="0.9"/>
<line x1="341.25" y1="232.20" x2="341.25" y2="234.70" stroke="#808080" stroke-width="0.9"/>
<line x1="346.25" y1="232.20" x2="346.25" y2="234.70" stroke="#808080" stroke-width="0.9"/>
<line x1="350" y1="233.50" x2="350" y2="236.00" stroke="#808080" stroke-width="0.9"/>
<line x1="351.9" y1="233.50" x2="351.9" y2="236.00" stroke="#808080" stroke-width="0.9"/>
<line x1="353.75" y1="233.50" x2="353.75" y2="236.00" stroke="#808080" stroke-width="0.9"/>
<line x1="355.6" y1="233.50" x2="355.6" y2="236.00" stroke="#808080" stroke-width="0.9"/>
<line x1="357.5" y1="233.50" x2="357.5" y2="236.00" stroke="#808080" stroke-width="0.9"/>
<line x1="368.75" y1="243.75" x2="368.75" y2="246.25" stroke="#808080" stroke-width="0.9"/>
<line x1="371.25" y1="243.75" x2="371.25" y2="246.25" stroke="#808080" stroke-width="0.9"/>
<line x1="372.5" y1="243.75" x2="372.5" y2="246.25" stroke="#808080" stroke-width="0.9"/>
<line x1="376.9" y1="248.75" x2="376.9" y2="251.25" stroke="#808080" stroke-width="0.9"/>
<line x1="378.1" y1="248.75" x2="378.1" y2="251.25" stroke="#808080" stroke-width="0.9"/>
<line x1="379.4" y1="248.75" x2="379.4" y2="251.25" stroke="#808080" stroke-width="0.9"/>
<line x1="380.6" y1="248.75" x2="380.6" y2="251.25" stroke="#808080" stroke-width="0.9"/>
<line x1="382.5" y1="248.75" x2="382.5" y2="251.25" stroke="#808080" stroke-width="0.9"/>
<line x1="384.4" y1="248.75" x2="384.4" y2="251.25" stroke="#808080" stroke-width="0.9"/>
<line x1="385.6" y1="248.75" x2="385.6" y2="251.25" stroke="#808080" stroke-width="0.9"/>
<line x1="386.9" y1="248.75" x2="386.9" y2="251.25" stroke="#808080" stroke-width="0.9"/>
<line x1="388.75" y1="248.75" x2="388.75" y2="251.25" stroke="#808080" stroke-width="0.9"/>
<line x1="390" y1="248.75" x2="390" y2="251.25" stroke="#808080" stroke-width="0.9"/>
<line x1="395" y1="251.90" x2="395" y2="254.40" stroke="#808080" stroke-width="0.9"/>
<line x1="396.25" y1="251.90" x2="396.25" y2="254.40" stroke="#808080" stroke-width="0.9"/>
<line x1="399.4" y1="251.90" x2="399.4" y2="254.40" stroke="#808080" stroke-width="0.9"/>
<line x1="400.6" y1="251.90" x2="400.6" y2="254.40" stroke="#808080" stroke-width="0.9"/>
<line x1="405.6" y1="251.90" x2="405.6" y2="254.40" stroke="#808080" stroke-width="0.9"/>
<line x1="406.9" y1="251.90" x2="406.9" y2="254.40" stroke="#808080" stroke-width="0.9"/>
<line x1="408.1" y1="251.90" x2="408.1" y2="254.40" stroke="#808080" stroke-width="0.9"/>
<line x1="409.4" y1="251.90" x2="409.4" y2="254.40" stroke="#808080" stroke-width="0.9"/>
<line x1="410.6" y1="251.90" x2="410.6" y2="254.40" stroke="#808080" stroke-width="0.9"/>
<line x1="412.5" y1="251.90" x2="412.5" y2="254.40" stroke="#808080" stroke-width="0.9"/>
<line x1="416.9" y1="259.50" x2="416.9" y2="262.00" stroke="#808080" stroke-width="0.9"/>
<line x1="418.1" y1="259.50" x2="418.1" y2="262.00" stroke="#808080" stroke-width="0.9"/>
<line x1="419.4" y1="259.50" x2="419.4" y2="262.00" stroke="#808080" stroke-width="0.9"/>
<line x1="420.6" y1="259.50" x2="420.6" y2="262.00" stroke="#808080" stroke-width="0.9"/>
<line x1="422.5" y1="259.50" x2="422.5" y2="262.00" stroke="#808080" stroke-width="0.9"/>
<line x1="424.4" y1="259.50" x2="424.4" y2="262.00" stroke="#808080" stroke-width="0.9"/>
<line x1="426.25" y1="259.50" x2="426.25" y2="262.00" stroke="#808080" stroke-width="0.9"/>
<line x1="428.1" y1="259.50" x2="428.1" y2="262.00" stroke="#808080" stroke-width="0.9"/>
<line x1="430" y1="259.50" x2="430" y2="262.00" stroke="#808080" stroke-width="0.9"/>
<line x1="431.25" y1="259.50" x2="431.25" y2="262.00" stroke="#808080" stroke-width="0.9"/>
<line x1="432.5" y1="259.50" x2="432.5" y2="262.00" stroke="#808080" stroke-width="0.9"/>
<line x1="448.75" y1="259.50" x2="448.75" y2="262.00" stroke="#808080" stroke-width="0.9"/>
<line x1="458.1" y1="259.50" x2="458.1" y2="262.00" stroke="#808080" stroke-width="0.9"/>
<line x1="466.25" y1="259.50" x2="466.25" y2="262.00" stroke="#808080" stroke-width="0.9"/>
<polyline points="432.50,288.75 434.40,288.75 434.40,291.25 435.60,291.25 435.60,293.50 440.00,293.50 440.00,293.50 443.10,293.50 443.10,296.25 445.00,296.25 445.00,298.75 445.60,298.75 445.60,300.20 460.80,300.20 460.80,305.00 476.50,305.00 476.50,311.40 501.60,311.40" fill="none" stroke="#000" stroke-width="1.5" />
<polyline points="306.60,226.20 310.00,228.75 313.75,233.10 317.50,236.90 321.25,241.25 324.40,244.40 326.90,248.10 329.40,251.25 333.75,255.00 338.75,258.10 342.50,261.25 345.60,263.75 350.00,265.60 355.00,266.40 360.00,267.90 366.25,268.60 371.25,269.20 376.25,271.90 382.50,275.00 387.50,276.25 393.75,277.50 400.00,279.00 405.00,280.00 410.00,281.90 415.00,283.60 417.50,285.40 422.50,285.60 426.25,286.90 430.00,288.10 432.50,288.75" fill="none" stroke="#000" stroke-width="3.3" stroke-linejoin="round"/>
<line x1="437" y1="290.90" x2="437" y2="293.50" stroke="#000" stroke-width="1"/>
<line x1="438.5" y1="290.90" x2="438.5" y2="293.50" stroke="#000" stroke-width="1"/>
<line x1="447.5" y1="297.60" x2="447.5" y2="300.20" stroke="#000" stroke-width="1"/>
<line x1="450" y1="297.60" x2="450" y2="300.20" stroke="#000" stroke-width="1"/>
<line x1="452.5" y1="297.60" x2="452.5" y2="300.20" stroke="#000" stroke-width="1"/>
<line x1="454.4" y1="297.60" x2="454.4" y2="300.20" stroke="#000" stroke-width="1"/>
<line x1="456.25" y1="297.60" x2="456.25" y2="300.20" stroke="#000" stroke-width="1"/>
<line x1="458.1" y1="297.60" x2="458.1" y2="300.20" stroke="#000" stroke-width="1"/>
<line x1="460" y1="297.60" x2="460" y2="300.20" stroke="#000" stroke-width="1"/>
<line x1="463.5" y1="302.40" x2="463.5" y2="305.00" stroke="#000" stroke-width="1"/>
<line x1="464.5" y1="302.40" x2="464.5" y2="305.00" stroke="#000" stroke-width="1"/>
<line x1="470.3" y1="302.40" x2="470.3" y2="305.00" stroke="#000" stroke-width="1"/>
<line x1="471.3" y1="302.40" x2="471.3" y2="305.00" stroke="#000" stroke-width="1"/>
<line x1="472.9" y1="302.40" x2="472.9" y2="305.00" stroke="#000" stroke-width="1"/>
<line x1="480" y1="308.80" x2="480" y2="311.40" stroke="#000" stroke-width="1"/>
<line x1="481" y1="308.80" x2="481" y2="311.40" stroke="#000" stroke-width="1"/>
<line x1="489" y1="308.80" x2="489" y2="311.40" stroke="#000" stroke-width="1"/>
<line x1="490" y1="308.80" x2="490" y2="311.40" stroke="#000" stroke-width="1"/>
<line x1="491.5" y1="308.80" x2="491.5" y2="311.40" stroke="#000" stroke-width="1"/>
<line x1="501.5" y1="308.80" x2="501.5" y2="311.40" stroke="#000" stroke-width="1"/>
</svg>
</body></html>
